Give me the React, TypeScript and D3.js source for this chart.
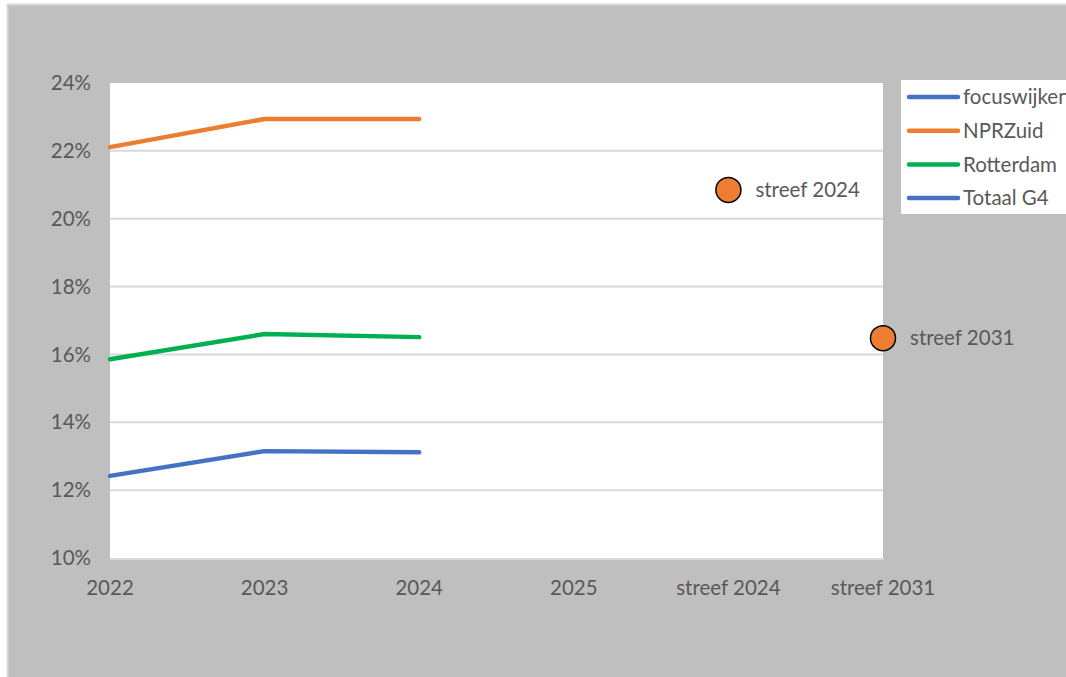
import * as d3 from 'd3'

const categories = ['2022', '2023', '2024', '2025', 'streef 2024', 'streef 2031']
const yTicks = [0.1, 0.12, 0.14, 0.16, 0.18, 0.2, 0.22, 0.24]

// values per category, null = no value
const focuswijken = [0.1242, 0.1315, 0.1312, null, null, null]
const nprZuid = [0.2211, 0.2294, 0.2294, null, null, null]
const rotterdam = [0.1586, 0.1660, 0.1651, null, null, null]
const totaalG4: (number | null)[] = [null, null, null, null, null, null]

const targetNames = ['streef 2024', 'streef 2031']
const targetValues = [0.2085, 0.1648]

const width = 1066,
      height = 677,
      plot = { left: 110, right: 883, top: 83, bottom: 558 },
      textColor = '#595959',
      font = 'Lato, "Open Sans", sans-serif',
      fs = 20.5

const series = [
  { name: 'focuswijken', values: focuswijken, color: '#4472c4' },
  { name: 'NPRZuid', values: nprZuid, color: '#ed7d31' },
  { name: 'Rotterdam', values: rotterdam, color: '#00b050' },
  { name: 'Totaal G4', values: totaalG4, color: '#4472c4' }
]

export default function App() {
  const x = d3.scalePoint<string>()
    .domain(categories)
    .range([plot.left, plot.right])

  const y = d3.scaleLinear()
    .domain([0.1, 0.24])
    .range([plot.bottom, plot.top])

  const pct = d3.format('.0%')

  const drawLine = d3.line<number | null>()
    .defined(d => d != null)
    .x((d, i) => x(categories[i])!)
    .y(d => y(d as number))

  return (
    <svg width={width} height={height}
      style={{ position: 'absolute', left: 0, top: 0, fontFamily: font }}>
      <rect x={0} y={0} width={width} height={height} fill='#fff' />
      {/* chart area */}
      <rect x={7.5} y={4.5} width={width} height={height} fill='#bfbfbf' stroke='#d9d9d9' strokeWidth={2} />

      {/* plot area */}
      <rect x={plot.left} y={plot.top} width={plot.right - plot.left} height={plot.bottom - plot.top} fill='#fff' />
      {yTicks.map(t => (
        <g key={t}>
          {t > 0.1 && t < 0.24 && (
            <line x1={plot.left} x2={plot.right} y1={y(t)} y2={y(t)} stroke='#d9d9d9' strokeWidth={2} />
          )}
          <text x={91} y={y(t)} dy='0.35em' textAnchor='end' fontSize={fs} fill={textColor}>{pct(t)}</text>
        </g>
      ))}
      <line x1={plot.left} x2={plot.right + 1} y1={plot.bottom + 1} y2={plot.bottom + 1} stroke='#d9d9d9' strokeWidth={2} />

      {categories.map(c => (
        <text key={c} x={x(c)} y={588} dy='0.35em' textAnchor='middle' fontSize={fs} fill={textColor}>{c}</text>
      ))}

      {series.map(s => (
        <path key={s.name} d={drawLine(s.values) || ''} fill='none' stroke={s.color}
          strokeWidth={4.5} strokeLinejoin='round' strokeLinecap='round' />
      ))}

      {targetNames.map((n, i) => (
        <g key={n}>
          <circle cx={x(n)} cy={y(targetValues[i])} r={12.5} fill='#ed7d31' stroke='#000' strokeWidth={1.5} />
          <text x={x(n)! + 27} y={y(targetValues[i])} dy='0.35em' fontSize={fs} fill={textColor}>{n}</text>
        </g>
      ))}

      {/* legend */}
      <rect x={901} y={80} width={width - 901} height={134} fill='#fff' />
      {series.map((s, i) => (
        <g key={s.name} transform={`translate(0, ${97 + i * 33.7})`}>
          <line x1={909} x2={958} y1={0} y2={0} stroke={s.color} strokeWidth={4.5} strokeLinecap='round' />
          <text x={963} y={0} dy='0.35em' fontSize={fs} fill={textColor}>{s.name}</text>
        </g>
      ))}
    </svg>
  )
}
